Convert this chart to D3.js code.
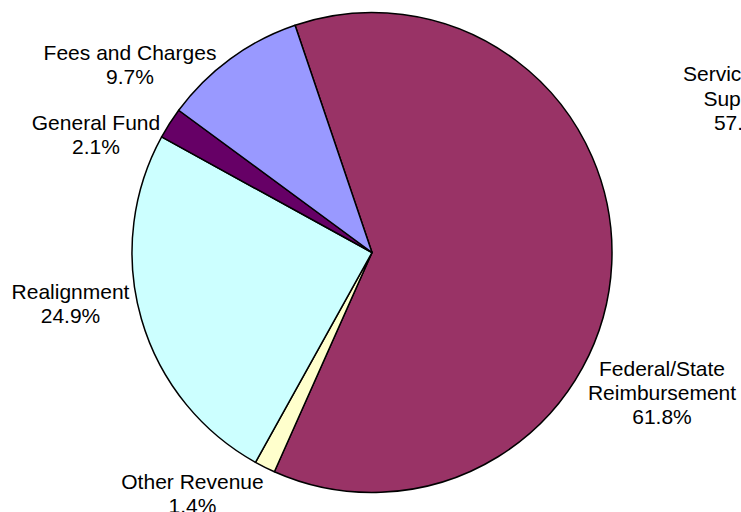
<!DOCTYPE html>
<html>
<head>
<meta charset="utf-8">
<script src="https://cdn.jsdelivr.net/npm/d3@7"></script>
<style>
  html, body { margin: 0; padding: 0; background: #fff; }
  svg { display: block; }
  text { font-family: "Liberation Sans", Arial, sans-serif; font-size: 21px; fill: #000; }
</style>
</head>
<body>
<div id="chart"></div>
<script>
// data, clockwise from the top
const categories = ["Federal/State Reimbursement", "Other Revenue", "Realignment", "General Fund", "Fees and Charges"];
const shares = [61.8, 1.4, 24.9, 2.1, 9.7];
const labelLines = [["Federal/State", "Reimbursement", "61.8%"], ["Other Revenue", "1.4%"], ["Realignment", "24.9%"], ["General Fund", "2.1%"], ["Fees and Charges", "9.7%"]];
// label of the neighbouring chart, cut by the right edge
const strayLines = ["Services and", "Supplies", "57.6%"];

const width = 741, height = 512;
const cx = 372, cy = 252.5, radius = 240;
const colors = d3.scaleOrdinal().domain(categories).range(["#993366", "#FFFFCC", "#CCFFFF", "#660066", "#9999FF"]);
const lineStep = 24.3;

// where each label block sits (first baseline), Excel places them by hand
const labelPlacement = {
    "Federal/State Reimbursement": [662, 375.5],
    "Other Revenue": [192.5, 488.5],
    "Realignment": [70.5, 298.5],
    "General Fund": [96, 129.5],
    "Fees and Charges": [130, 59.5]
};

const svg = d3.select("#chart")
    .append("svg")
    .attr("width", width)
    .attr("height", height);

const start = -18.7 * Math.PI / 180;
const pie = d3.pie().sort(null).value(d => d).startAngle(start).endAngle(start + 2 * Math.PI);
const arc = d3.arc().innerRadius(0).outerRadius(radius);

const g = svg.append("g").attr("transform", `translate(${cx},${cy})`);

g.selectAll(".slice")
    .data(pie(shares))
    .enter().append("path")
    .attr("class", "slice")
    .attr("d", arc)
    .attr("fill", (d, i) => colors(categories[i]))
    .attr("stroke", "#000")
    .attr("stroke-width", 1.5)
    .attr("stroke-linejoin", "round");

const labels = svg.selectAll(".label")
    .data(categories)
    .enter().append("text")
    .attr("class", "label")
    .attr("text-anchor", "middle")
    .attr("x", d => labelPlacement[d][0])
    .attr("y", d => labelPlacement[d][1]);

labels.selectAll("tspan")
    .data((d, i) => labelLines[i])
    .enter().append("tspan")
    .attr("x", function() { return this.parentNode.getAttribute("x"); })
    .attr("dy", (d, i) => i === 0 ? 0 : lineStep)
    .text(d => d);

const stray = svg.append("text")
    .attr("text-anchor", "middle")
    .attr("x", 743.7)
    .attr("y", 81.3);
stray.selectAll("tspan")
    .data(strayLines)
    .enter().append("tspan")
    .attr("x", 743.7)
    .attr("dy", (d, i) => i === 0 ? 0 : lineStep)
    .text(d => d);
</script>
</body>
</html>
